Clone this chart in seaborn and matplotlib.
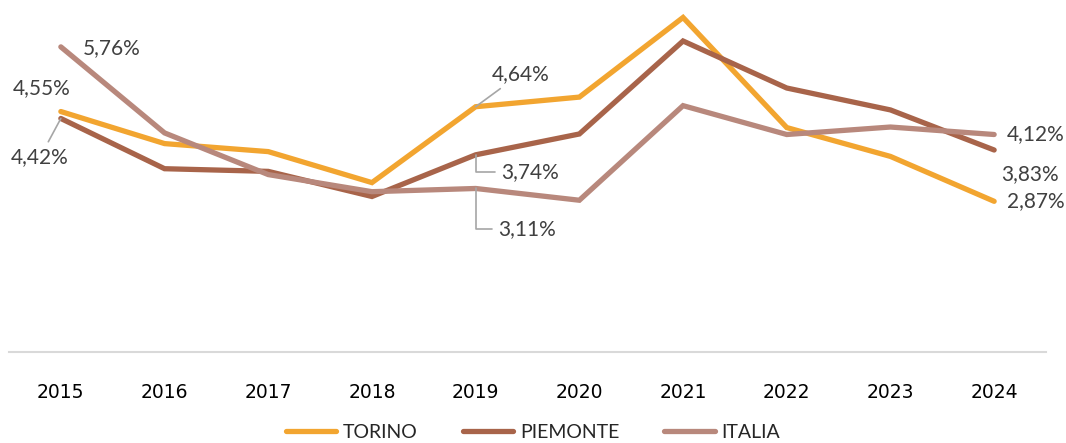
import matplotlib
matplotlib.use("Agg")
import matplotlib.pyplot as plt
import pandas as pd
import seaborn as sns

YEARS = [2015, 2016, 2017, 2018, 2019, 2020, 2021, 2022, 2023, 2024]
TORINO = [4.55, 3.95, 3.80, 3.22, 4.64, 4.82, 6.31, 4.25, 3.71, 2.87]
PIEMONTE = [4.42, 3.48, 3.43, 2.96, 3.74, 4.13, 5.87, 4.99, 4.58, 3.83]
ITALIA = [5.76, 4.15, 3.37, 3.05, 3.11, 2.89, 4.66, 4.12, 4.26, 4.12]

SERIES = ["TORINO", "PIEMONTE", "ITALIA"]
COLORS = {"TORINO": "#F2A530", "PIEMONTE": "#A8644A", "ITALIA": "#B8887C"}

# (series, year index, offset in pixels, leader style or None)
LABELS = [
    ("ITALIA", 0, (51, -1), None),
    ("TORINO", 0, (-19, 23), None),
    ("PIEMONTE", 0, (-21, -39), "straight"),
    ("TORINO", 4, (45, 33), "straight"),
    ("PIEMONTE", 4, (54, -17), "elbow"),
    ("ITALIA", 4, (51, -41), "elbow"),
    ("ITALIA", 9, (42, 0), None),
    ("PIEMONTE", 9, (36, -24), None),
    ("TORINO", 9, (42, 0), None),
]

sns.set_theme(style="white")
plt.rcParams["font.family"] = ["Lato", "DejaVu Sans"]

df = pd.DataFrame({"anno": YEARS, "TORINO": TORINO, "PIEMONTE": PIEMONTE, "ITALIA": ITALIA})
long = df.melt(id_vars="anno", var_name="serie", value_name="valore")
long["pos"] = long["anno"].map({y: i for i, y in enumerate(YEARS)})

fig = plt.figure(figsize=(10.66, 4.43), dpi=100)
ax = fig.add_axes([9 / 1066, 91 / 443, 1037 / 1066, 342 / 443])

sns.lineplot(data=long, x="pos", y="valore", hue="serie", hue_order=SERIES,
             palette=COLORS, linewidth=3.8, ax=ax, legend=False,
             solid_capstyle="round", solid_joinstyle="miter")

ax.set_xlim(-0.5, len(YEARS) - 0.5)
ax.set_ylim(0.05, 6.45)
ax.set_xticks(range(len(YEARS)))
ax.set_xticklabels([str(y) for y in YEARS], family="Liberation Sans Narrow",
                   fontsize=13.5, color="#000000")
ax.tick_params(axis="x", length=0, pad=22)
ax.set_yticks([])
ax.set_xlabel("")
ax.set_ylabel("")
for s in ["top", "right", "left"]:
    ax.spines[s].set_visible(False)
ax.spines["bottom"].set_color("#D9D9D9")
ax.spines["bottom"].set_linewidth(1.5)

values = {"TORINO": TORINO, "PIEMONTE": PIEMONTE, "ITALIA": ITALIA}
for name, idx, off, leader in LABELS:
    v = values[name][idx]
    txt = f"{v:.2f}%".replace(".", ",")
    props = None
    if leader == "straight":
        props = dict(arrowstyle="-", color="#A6A6A6", lw=1.2, shrinkA=2, shrinkB=0)
    elif leader == "elbow":
        props = dict(arrowstyle="-", color="#A6A6A6", lw=1.2, shrinkA=2, shrinkB=0,
                     connectionstyle="angle,angleA=0,angleB=90,rad=0")
    ax.annotate(txt, xy=(idx, v), xytext=off, textcoords="offset pixels",
                ha="center", va="center", fontsize=15, color="#404040",
                arrowprops=props)

handles = [plt.Line2D([], [], color=COLORS[s], lw=3.8, solid_capstyle="round") for s in SERIES]
fig.legend(handles, SERIES, loc="center", bbox_to_anchor=(0.5, 11 / 443), ncol=3,
           frameon=False, fontsize=14, handlelength=2.6, handletextpad=0.35,
           columnspacing=2.3, borderpad=0.1)

fig.savefig("out.png", dpi=100)
plt.close(fig)
